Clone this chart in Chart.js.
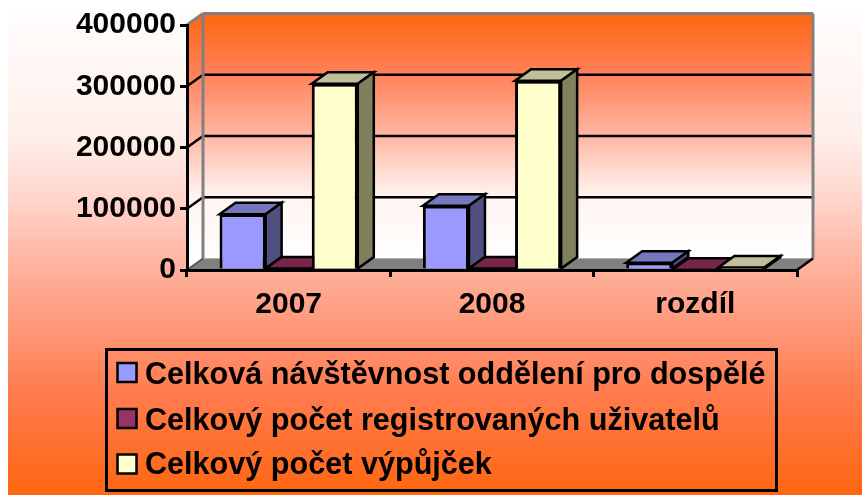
<!DOCTYPE html>
<html>
<head>
<meta charset="utf-8">
<style>
html, body { margin: 0; padding: 0; background: #fff; }
canvas { position: absolute; left: 0; top: 0; }
</style>
<script src="https://cdn.jsdelivr.net/npm/chart.js@4"></script>
</head>
<body>
<canvas id="barchart" width="862" height="495"></canvas>
<script>
var categories = ['2007', '2008', 'rozdíl'];
var seriesNames = [
	'Celková návštěvnost oddělení pro dospělé',
	'Celkový počet registrovaných uživatelů',
	'Celkový počet výpůjček'
];
var visits = [91000, 105000, 12000];
var users = [2500, 2500, 500];
var loans = [304000, 309000, 4000];
var yMax = 400000;
var yStep = 100000;

var fontFamily = '"Liberation Sans", Arial, sans-serif';
var depthX = 16;
var depthY = 11.5;
// front, top, side
var blueFaces = ['#9999ff', '#7777bf', '#4f4f80'];
var maroonFaces = ['#993366', '#772549', '#4d1a33'];
var yellowFaces = ['#ffffcc', '#bfbf99', '#80805f'];
var allFaces = [blueFaces, maroonFaces, yellowFaces];

function poly(ctx, pts, fill, stroke, width) {
	ctx.beginPath();
	ctx.moveTo(pts[0][0], pts[0][1]);
	for (var i = 1; i < pts.length; i++) {
		ctx.lineTo(pts[i][0], pts[i][1]);
	}
	ctx.closePath();
	if (fill) {
		ctx.fillStyle = fill;
		ctx.fill();
	}
	if (stroke) {
		ctx.strokeStyle = stroke;
		ctx.lineWidth = width;
		ctx.stroke();
	}
}

function line(ctx, x1, y1, x2, y2, color, width) {
	ctx.beginPath();
	ctx.moveTo(x1, y1);
	ctx.lineTo(x2, y2);
	ctx.strokeStyle = color;
	ctx.lineWidth = width;
	ctx.stroke();
}

/* page background and the box walls, behind the axes */
var wallsPlugin = {
	id: 'walls',
	beforeDraw: function (chart) {
		var ctx = chart.ctx;
		var a = chart.chartArea;
		var yScale = chart.scales.y;
		ctx.save();

		var bg = ctx.createLinearGradient(0, 9, 0, 495);
		bg.addColorStop(0, '#fffdfc');
		bg.addColorStop(0.255, '#fff0ec');
		bg.addColorStop(0.39, '#ffd6cc');
		bg.addColorStop(0.53, '#ffb29e');
		bg.addColorStop(0.667, '#ff9575');
		bg.addColorStop(0.8, '#ff7a4c');
		bg.addColorStop(1, '#ff6610');
		ctx.fillStyle = bg;
		ctx.fillRect(8, 9, 854, 486);

		var wall = ctx.createLinearGradient(0, a.top - depthY, 0, a.bottom - depthY);
		wall.addColorStop(0, '#ff6610');
		wall.addColorStop(0.24, '#ff8058');
		wall.addColorStop(0.49, '#ffb4a0');
		wall.addColorStop(0.67, '#ffe2da');
		wall.addColorStop(0.75, '#fff4f0');
		wall.addColorStop(1, '#ffffff');

		// left wall, back wall, floor
		poly(ctx, [[a.left, a.top], [a.left + depthX, a.top - depthY], [a.left + depthX, a.bottom - depthY], [a.left, a.bottom]], wall);
		poly(ctx, [[a.left + depthX, a.top - depthY], [a.right + depthX, a.top - depthY], [a.right + depthX, a.bottom - depthY], [a.left + depthX, a.bottom - depthY]], wall);
		poly(ctx, [[a.left, a.bottom], [a.left + depthX, a.bottom - depthY], [a.right + depthX, a.bottom - depthY], [a.right, a.bottom]], '#808080');

		// grid lines run across the back wall and down the left wall
		yScale.ticks.forEach(function (t) {
			if (t.value === 0 || t.value === yMax) {
				return;
			}
			var y = yScale.getPixelForValue(t.value);
			line(ctx, a.left, y, a.left + depthX, y - depthY, '#000', 2.5);
			line(ctx, a.left + depthX, y - depthY, a.right + depthX, y - depthY, '#000', 2.5);
		});

		// wall outline
		line(ctx, a.left, a.top, a.left + depthX, a.top - depthY, '#808080', 3);
		line(ctx, a.left + depthX, a.top - depthY, a.right + depthX, a.top - depthY, '#808080', 3);
		line(ctx, a.left + depthX, a.top - depthY, a.left + depthX, a.bottom - depthY, '#808080', 3);
		line(ctx, a.right + depthX, a.top - depthY, a.right + depthX, a.bottom - depthY, '#808080', 3);
		line(ctx, a.left, a.bottom, a.left + depthX, a.bottom - depthY, '#555', 2);
		line(ctx, a.right, a.bottom, a.right + depthX, a.bottom - depthY, '#000', 2.5);
		ctx.restore();
	},
	// top and side faces of each bar, the library draws the front faces over them
	beforeDatasetsDraw: function (chart) {
		var ctx = chart.ctx;
		ctx.save();
		ctx.lineJoin = 'miter';
		categories.forEach(function (c, idx) {
			allFaces.forEach(function (faces, ds) {
				var bar = chart.getDatasetMeta(ds).data[idx];
				var l = bar.x - bar.width / 2;
				var r = bar.x + bar.width / 2;
				poly(ctx, [[l, bar.y], [l + depthX, bar.y - depthY], [r + depthX, bar.y - depthY], [r, bar.y]], faces[1], '#000', 2.5);
				poly(ctx, [[r, bar.y], [r + depthX, bar.y - depthY], [r + depthX, bar.base - depthY], [r, bar.base]], faces[2], '#000', 2.5);
			});
		});
		ctx.restore();
	}
};

/* legend box under the axis */
var legendPlugin = {
	id: 'boxLegend',
	afterDraw: function (chart) {
		var ctx = chart.ctx;
		var rowBase = [384, 429.5, 474];
		var boxTop = [363, 409, 454.5];
		ctx.save();
		ctx.strokeStyle = '#000';
		ctx.lineWidth = 3;
		ctx.strokeRect(106.5, 349.5, 670, 141);
		ctx.font = 'bold 30.6px ' + fontFamily;
		ctx.textBaseline = 'alphabetic';
		ctx.textAlign = 'left';
		seriesNames.forEach(function (name, i) {
			ctx.fillStyle = allFaces[i][0];
			ctx.fillRect(117.5, boxTop[i], 19, 19);
			ctx.lineWidth = 2.5;
			ctx.strokeRect(117.5, boxTop[i], 19, 19);
			ctx.fillStyle = '#000';
			ctx.fillText(name, 145, rowBase[i]);
		});
		ctx.restore();
	}
};

var barchart = document.getElementById('barchart').getContext('2d');
var mybarchartConfig = {
	type: 'bar',
	data: {
		labels: categories,
		datasets: [
			{ label: seriesNames[0], data: visits, backgroundColor: blueFaces[0] },
			{ label: seriesNames[1], data: users, backgroundColor: maroonFaces[0] },
			{ label: seriesNames[2], data: loans, backgroundColor: yellowFaces[0] }
		]
	},
	options: {
		responsive: false,
		animation: false,
		layout: {
			padding: { top: 25, right: 65, left: 0, bottom: 0 }
		},
		datasets: {
			bar: {
				barPercentage: 1,
				categoryPercentage: 0.68,
				borderColor: '#000',
				borderWidth: 3
			}
		},
		plugins: {
			legend: { display: false },
			tooltip: { enabled: false }
		},
		scales: {
			y: {
				min: 0,
				max: yMax,
				ticks: {
					stepSize: yStep,
					color: '#000',
					padding: 4,
					font: { family: fontFamily, size: 30, weight: 'bold' },
					callback: function (v) { return String(v); }
				},
				grid: { drawOnChartArea: false, color: '#000', lineWidth: 3, tickLength: 7 },
				border: { color: '#000', width: 3 },
				afterFit: function (s) { s.width = 187; }
			},
			x: {
				ticks: {
					color: '#000',
					padding: 10,
					font: { family: fontFamily, size: 30, weight: 'bold' }
				},
				grid: { drawOnChartArea: false, color: '#000', lineWidth: 3, tickLength: 7 },
				border: { color: '#000', width: 3 },
				afterFit: function (s) { s.height = 225; }
			}
		}
	},
	plugins: [wallsPlugin, legendPlugin]
};
var myBarChart = new Chart(barchart, mybarchartConfig);
</script>
</body>
</html>
